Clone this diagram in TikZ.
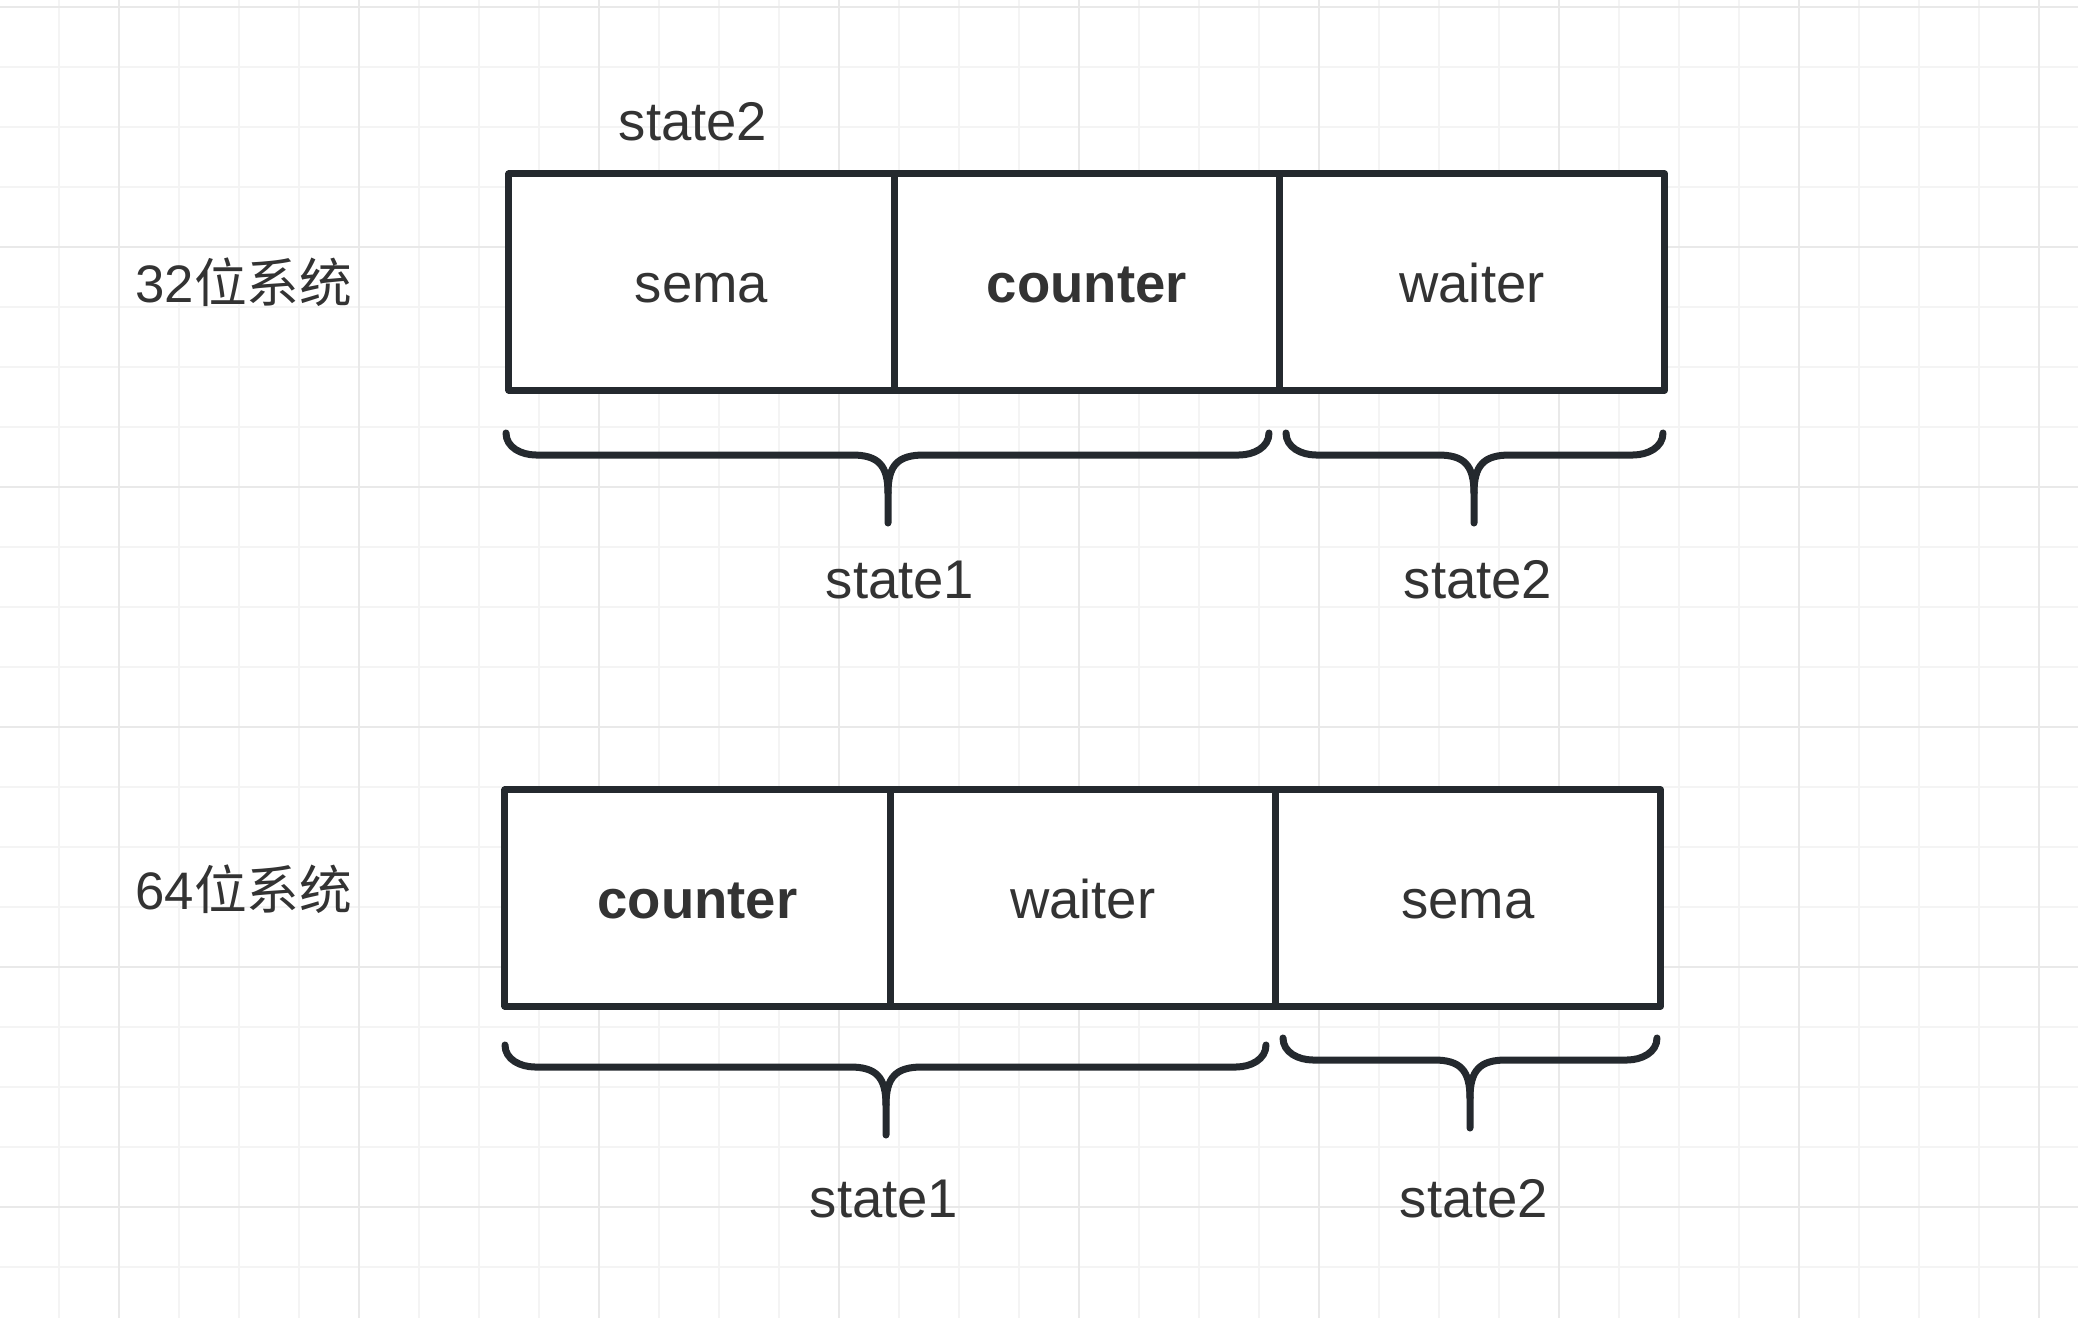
\documentclass[tikz,border=0pt]{standalone}
\usepackage{fontspec}
\setmainfont{Liberation Sans}
\newfontfamily\cjk{Noto Sans CJK SC}
\usetikzlibrary{positioning}

\definecolor{ink}{RGB}{36,41,46}
\definecolor{txt}{RGB}{51,51,51}
\definecolor{gridminor}{RGB}{244,244,244}
\definecolor{gridmajor}{RGB}{233,233,233}

% brace under a group of fields: left x, right x, tip x, top y
\newcommand{\fieldbrace}[4]{%
  \draw[brace line] (#1,#4) to[out=-90,in=180] (#1+30,#4+22) -- (#3-36,#4+22)
     .. controls (#3-10,#4+22) and (#3,#4+32) .. (#3,#4+60) -- (#3,#4+90);
  \draw[brace line] (#2,#4) to[out=-90,in=0] (#2-30,#4+22) -- (#3+36,#4+22)
     .. controls (#3+10,#4+22) and (#3,#4+32) .. (#3,#4+60);
}

\begin{document}
\begin{tikzpicture}[x=0.01cm,y=-0.01cm,
    font=\fontsize{15.5}{18}\selectfont,
    minor grid/.style={draw=gridminor,line width=0.015cm},
    major grid/.style={draw=gridmajor,line width=0.02cm},
    cell/.style={rectangle,draw=ink,fill=white,line width=0.07cm,line join=round,
      minimum width=3.85cm,minimum height=2.16cm,inner sep=0pt,outer sep=0pt,text=txt,
      text height=0.4cm,text depth=0cm},
    tag/.style={text=txt,inner sep=0pt},
    brace line/.style={draw=ink,line width=0.07cm,line cap=round,line join=round}
    ]

  \useasboundingbox[fill=white] (0,0) rectangle (2078,1318);

  % background grid
  \foreach \x in {59,119,...,2039} \draw[minor grid] (\x,0) -- (\x,1318);
  \foreach \y in {7,67,...,1267} \draw[minor grid] (0,\y) -- (2078,\y);
  \foreach \x in {119,359,...,2039} \draw[major grid] (\x,0) -- (\x,1318);
  \foreach \y in {7,247,...,1207} \draw[major grid] (0,\y) -- (2078,\y);

  % 32 bit
  \node[tag,font=\fontsize{15}{18}\selectfont] (sys32) at (244,282) {32{\cjk 位系统}};
  \node[tag] (top2) at (693,122) {state2};
  \node[cell] (sema32) at (701.5,282) {sema};
  \node[cell, right=0pt of sema32] (counter32) {\bfseries counter};
  \node[cell, right=0pt of counter32] (waiter32) {waiter};

  \fieldbrace{506}{1269}{888}{433}
  \fieldbrace{1286}{1663}{1474}{433}
  \node[tag] (state1a) at (900,580) {state1};
  \node[tag] (state2a) at (1478,580) {state2};

  % 64 bit
  \node[tag,font=\fontsize{15}{18}\selectfont] (sys64) at (244,889) {64{\cjk 位系统}};
  \node[cell] (counter64) at (697.5,898) {\bfseries counter};
  \node[cell, right=0pt of counter64] (waiter64) {waiter};
  \node[cell, right=0pt of waiter64] (sema64) {sema};

  \fieldbrace{505}{1266}{886}{1045}
  \fieldbrace{1283}{1657}{1470}{1038}
  \node[tag] (state1b) at (884,1199) {state1};
  \node[tag] (state2b) at (1474,1199) {state2};

\end{tikzpicture}
\end{document}
